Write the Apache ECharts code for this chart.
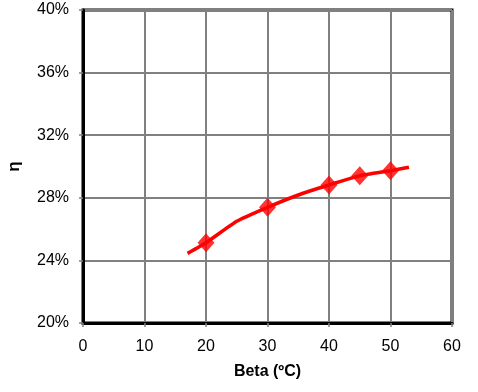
<!DOCTYPE html>
<html><head><meta charset="utf-8">
<script src="https://cdn.jsdelivr.net/npm/echarts@6/dist/echarts.min.js"></script>
<style>html,body{margin:0;padding:0;background:#fff}#c{width:478px;height:392px}</style>
</head><body><div id="c"></div>
<script>
var xTicks = [0, 10, 20, 30, 40, 50, 60];
var yTicks = [0.20, 0.24, 0.28, 0.32, 0.36, 0.40];
var pointX = [20, 30, 40, 45, 50];
var pointY = [0.2513, 0.2739, 0.2882, 0.2941, 0.2973];
var curveX = [17, 20, 25, 30, 35, 40, 45, 50, 53];
var curveY = [0.2445, 0.2513, 0.2650, 0.2739, 0.2818, 0.2882, 0.2941, 0.2973, 0.2995];

var chart = echarts.init(document.getElementById('c'));
var font = 'Liberation Sans, Arial, sans-serif';
chart.setOption({
  animation: false,
  grid: {left: 83, right: 26, top: 10, bottom: 69, containLabel: false, outerBoundsMode: 'none',
         show: true, borderColor: '#000', borderWidth: 3, backgroundColor: '#fff'},
  xAxis: {
    type: 'value', min: xTicks[0], max: xTicks[xTicks.length-1], interval: 10,
    name: 'Beta (ºC)', nameLocation: 'middle', nameGap: 41,
    nameTextStyle: {fontFamily: font, fontSize: 16, fontWeight: 'bold', color: '#000'},
    axisLine: {lineStyle: {color: '#000', width: 3}},
    axisTick: {show: true, length: 4, lineStyle: {color: '#808080', width: 1.5}},
    axisLabel: {fontFamily: font, fontSize: 16, color: '#000', margin: 16},
    splitLine: {show: true, lineStyle: {color: '#808080', width: 2}}
  },
  yAxis: {
    type: 'value', min: yTicks[0], max: yTicks[yTicks.length-1], interval: 0.04,
    name: 'η', nameLocation: 'middle', nameGap: 60, nameRotate: 90,
    nameTextStyle: {fontFamily: font, fontSize: 17, fontWeight: 'bold', color: '#000'},
    axisLine: {lineStyle: {color: '#000', width: 3}},
    axisTick: {show: true, length: 4, lineStyle: {color: '#808080', width: 1.5}},
    axisLabel: {fontFamily: font, fontSize: 16, color: '#000', margin: 14,
      formatter: function(v){ return Math.round(v*100) + '%'; }},
    splitLine: {show: true, lineStyle: {color: '#808080', width: 2}}
  },
  series: [
    {type: 'line', data: curveX.map(function(x,i){return [x, curveY[i]];}), smooth: 0.15, showSymbol: false,
     lineStyle: {color: '#ff0000', width: 3.5}, z: 3},
    {type: 'scatter', data: pointX.map(function(x,i){return [x, pointY[i]];}), symbol: 'diamond', symbolSize: [17, 19],
     itemStyle: {color: '#ff0000'}, z: 4}
  ]
});
</script></body></html>
